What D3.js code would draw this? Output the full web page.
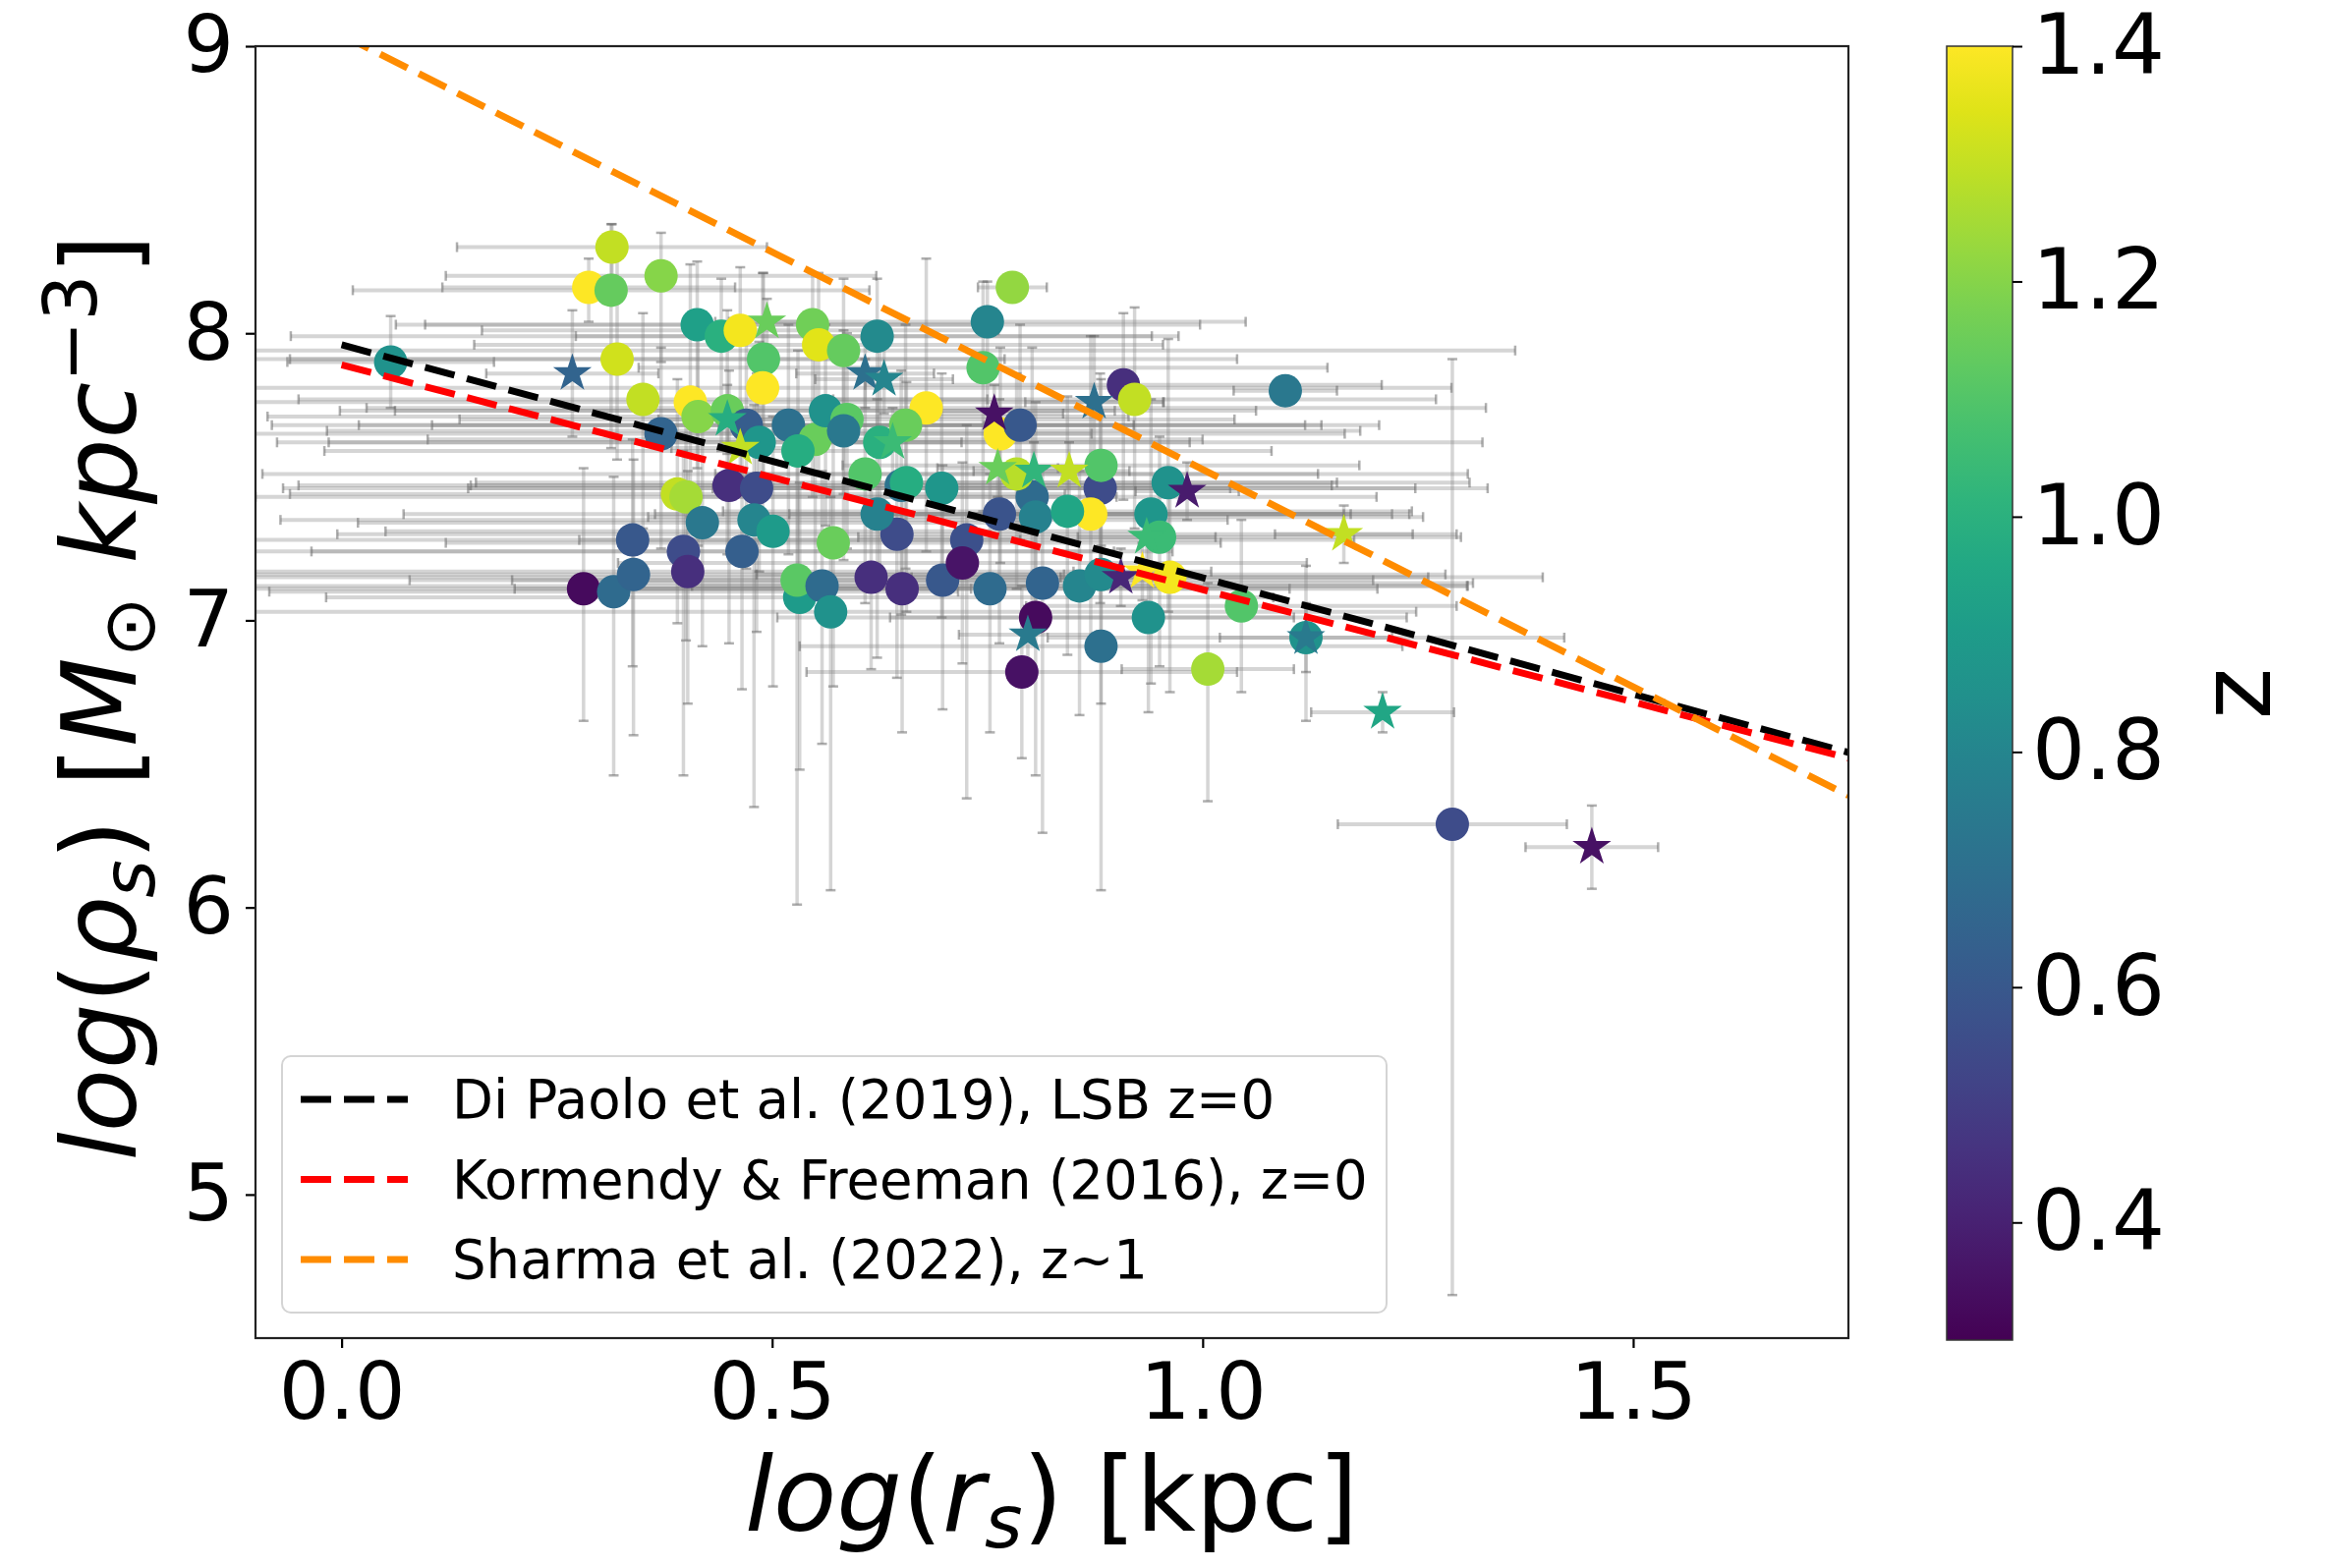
<!DOCTYPE html>
<html>
<head>
<meta charset="utf-8">
<script src="https://cdn.jsdelivr.net/npm/d3@7"></script>
<style>
body { margin: 0; background: #fff; }
text { font-family: "DejaVu Sans", sans-serif; }
</style>
</head>
<body>
<div id="chart"></div>
<script>
// circles: log r_s, log rho_s, redshift, errors (x sym, y low, y high)
var circX = [0.057,0.314,0.287,0.313,0.371,0.320,0.350,0.413,0.441,0.463,0.490,0.489,0.547,0.554,0.622,0.583,0.750,0.779,0.745,0.908,
    0.921,1.096,0.679,0.405,0.414,0.448,0.371,0.519,0.550,0.562,0.625,0.655,0.765,0.788,0.881,0.882,0.960,0.390,0.400,0.450,
    0.482,0.419,0.479,0.501,0.571,0.608,0.645,0.697,0.726,0.802,0.806,0.870,0.843,0.940,0.950,0.338,0.397,0.402,0.465,0.281,
    0.316,0.339,0.532,0.529,0.558,0.568,0.615,0.651,0.698,0.721,0.753,0.814,0.857,0.937,0.806,0.790,0.882,1.006,1.045,1.120,
    1.290,0.764,0.587,0.650,0.470,0.485,0.530,0.583,0.656,0.622,0.882,0.962,0.784];
var circY = [7.90,8.30,8.16,8.15,8.20,7.91,7.77,8.03,7.99,8.01,7.91,7.81,8.03,7.96,7.99,7.94,8.04,8.16,7.88,7.82,
    7.77,7.80,7.74,7.76,7.71,7.73,7.65,7.68,7.63,7.73,7.62,7.68,7.65,7.68,7.46,7.54,7.48,7.44,7.43,7.47,
    7.46,7.34,7.35,7.31,7.27,7.51,7.30,7.46,7.28,7.43,7.36,7.37,7.38,7.37,7.29,7.28,7.24,7.17,7.24,7.11,
    7.10,7.16,7.08,7.14,7.12,7.03,7.15,7.11,7.14,7.20,7.11,7.13,7.12,7.01,7.01,6.82,6.91,6.83,7.05,6.94,
    6.29,7.37,7.70,7.47,7.68,7.62,7.59,7.66,7.48,7.37,7.16,7.15,7.51];
var circZ = [0.86,1.30,1.40,1.14,1.20,1.32,1.30,0.92,1.00,1.38,1.10,1.40,1.16,1.35,0.82,1.14,0.80,1.22,1.10,0.45,
    1.30,0.74,1.40,1.40,1.20,1.15,0.65,0.70,1.15,0.86,1.00,1.15,1.40,0.60,0.55,1.10,0.86,1.30,1.25,0.45,
    0.55,0.74,0.80,0.90,1.15,1.10,0.55,0.88,0.57,0.68,0.78,1.40,0.95,0.88,1.05,0.60,0.55,0.45,0.63,0.33,
    0.68,0.65,0.90,1.12,0.68,0.86,0.45,0.45,0.60,0.36,0.68,0.65,0.80,0.86,0.33,0.35,0.70,1.25,1.10,0.86,
    0.55,0.58,1.12,0.72,0.62,0.88,0.98,0.74,0.98,0.78,0.82,1.38,1.28];
var circXerr = [0.12,0.18,0.17,0.30,0.25,0.45,0.40,0.35,0.50,0.30,0.55,0.80,0.45,0.40,0.35,0.78,0.30,0.04,0.40,0.30,
    0.35,0.06,0.65,0.55,0.50,0.45,0.50,0.60,0.45,0.50,0.70,0.55,0.40,0.35,0.45,0.30,0.35,0.45,0.50,0.50,
    0.55,0.40,0.55,0.45,0.45,0.70,0.65,0.55,0.45,0.40,0.45,0.35,0.40,0.30,0.35,0.45,0.50,0.55,0.50,0.45,
    0.40,0.50,0.55,0.45,0.75,0.68,0.78,0.45,0.50,0.40,0.45,0.50,0.45,0.30,0.30,0.25,0.35,0.10,0.25,0.30,
    0.133,0.40,0.45,0.50,0.45,0.50,0.55,0.60,0.50,0.55,0.40,0.30,0.35];
var circYlo = [0.16,0.10,0.12,0.55,0.30,0.35,0.45,0.50,0.40,0.35,0.45,0.50,0.60,0.45,0.40,0.50,0.35,0.05,0.50,0.40,
    0.45,0.05,0.50,0.40,0.45,0.50,0.40,0.45,0.55,0.40,0.45,0.50,0.45,0.40,0.40,0.35,0.45,0.45,0.50,0.55,
    0.50,0.43,1.00,0.54,0.50,0.45,0.50,0.45,0.90,0.45,0.40,0.45,0.50,0.59,0.45,0.44,0.78,0.46,0.48,0.46,
    0.64,0.56,0.60,1.13,0.55,0.97,0.32,0.50,0.45,0.35,0.50,0.87,0.45,0.33,0.55,0.30,0.85,0.46,0.30,0.29,
    1.64,0.45,0.45,0.45,0.50,0.45,0.50,0.45,0.45,0.50,0.45,0.40,0.40];
var circYhi = [0.16,0.08,0.10,0.23,0.15,0.39,0.30,0.22,0.20,0.22,0.30,0.40,0.18,0.25,0.20,0.25,0.14,0.05,0.30,0.25,
    0.32,0.05,0.52,0.48,0.30,0.35,0.30,0.35,0.30,0.30,0.35,0.35,0.30,0.35,0.40,0.30,0.50,0.40,0.35,0.40,
    0.40,0.35,0.40,0.40,0.40,0.40,0.40,0.40,0.40,0.52,0.40,0.62,0.40,0.40,0.35,0.35,0.35,0.35,0.35,0.42,
    0.40,0.40,0.40,0.40,0.40,0.40,0.35,0.35,0.40,0.35,0.40,0.40,0.40,0.35,0.30,0.30,0.35,0.30,0.30,0.25,
    1.62,0.40,0.30,0.40,0.35,0.35,0.35,0.35,0.35,0.40,0.40,0.35,0.35];

// stars
var starX = [0.268,0.494,0.608,0.630,0.640,0.758,0.874,0.762,0.804,0.845,0.982,1.164,0.935,0.797,1.120,1.209,1.452,0.930,0.905,0.448,0.463];
var starY = [7.86,8.04,7.86,7.84,7.62,7.72,7.76,7.53,7.52,7.52,7.45,7.30,7.29,6.95,6.94,6.68,6.21,7.17,7.15,7.70,7.60];
var starZ = [0.65,1.15,0.70,0.80,1.05,0.35,0.70,1.15,1.02,1.30,0.38,1.30,1.05,0.75,0.75,0.95,0.35,1.40,0.42,0.98,1.30];
var starXerr = [0.10,0.06,0.08,0.08,0.08,0.08,0.08,0.07,0.07,0.07,0.06,0.08,0.08,0.08,0.10,0.083,0.077,0.08,0.07,0.08,0.08];
var starYerr = [0.22,0.08,0.12,0.12,0.12,0.10,0.23,0.10,0.10,0.10,0.10,0.10,0.12,0.10,0.12,0.07,0.145,0.10,0.10,0.12,0.10];

// relations
var relX = [0, 1.75];
var diPaoloY = [7.96, 6.54];
var kormendyY = [7.89, 6.52];
var sharmaY = [9.04, 6.39];
var relNames = ["Di Paolo et al. (2019), LSB z=0", "Kormendy & Freeman (2016), z=0", "Sharma et al. (2022), z~1"];
var relColors = ["#000000", "#ff0000", "#ff8c00"];

var xTicks = [0.0, 0.5, 1.0, 1.5];
var yTicks = [5, 6, 7, 8, 9];
var zTicks = [0.4, 0.6, 0.8, 1.0, 1.2, 1.4];

drawChart();

function drawChart() {
    var W = 2367, H = 1596;
    var pl = 260, pr = 1881, pt = 47, pb = 1362;

    var svg = d3.select("#chart").append("svg")
        .attr("width", W).attr("height", H);
    svg.append("rect").attr("width", W).attr("height", H).attr("fill", "#fff");

    var x = d3.scaleLinear().domain([-0.1, 1.75]).range([pl, pr]);
    var y = d3.scaleLinear().domain([4.5, 9]).range([pb, pt]);
    var zmin = 0.3, zmax = 1.4;
    var color = function(z) { return d3.interpolateViridis((z - zmin) / (zmax - zmin)); };

    var defs = svg.append("defs");
    defs.append("clipPath").attr("id", "plotclip")
        .append("rect").attr("x", pl).attr("y", pt)
        .attr("width", pr - pl).attr("height", pb - pt);

    var plot = svg.append("g").attr("clip-path", "url(#plotclip)");

    var circles = circX.map(function(d, i) {
        return {x: d, y: circY[i], z: circZ[i], xe: circXerr[i], yl: circYlo[i], yh: circYhi[i]};
    });
    var stars = starX.map(function(d, i) {
        return {x: d, y: starY[i], z: starZ[i], xe: starXerr[i], yl: starYerr[i], yh: starYerr[i]};
    });
    var all = circles.concat(stars);

    // error bars
    var eb = plot.append("g");
    var cap = 5;
    all.forEach(function(d) {
        var g = eb.append("g");
        g.append("line")
            .attr("x1", x(d.x - d.xe)).attr("x2", x(d.x + d.xe))
            .attr("y1", y(d.y)).attr("y2", y(d.y))
            .attr("stroke", "#808080").attr("stroke-opacity", 0.33).attr("stroke-width", 4);
        g.append("line")
            .attr("x1", x(d.x)).attr("x2", x(d.x))
            .attr("y1", y(d.y - d.yl)).attr("y2", y(d.y + d.yh))
            .attr("stroke", "#808080").attr("stroke-opacity", 0.33).attr("stroke-width", 3.5);
        [d.x - d.xe, d.x + d.xe].forEach(function(v) {
            g.append("line")
                .attr("x1", x(v)).attr("x2", x(v))
                .attr("y1", y(d.y) - cap).attr("y2", y(d.y) + cap)
                .attr("stroke", "#606060").attr("stroke-opacity", 0.5).attr("stroke-width", 2.5);
        });
        [d.y - d.yl, d.y + d.yh].forEach(function(v) {
            g.append("line")
                .attr("x1", x(d.x) - cap).attr("x2", x(d.x) + cap)
                .attr("y1", y(v)).attr("y2", y(v))
                .attr("stroke", "#606060").attr("stroke-opacity", 0.5).attr("stroke-width", 2.5);
        });
    });

    plot.append("g").selectAll("circle")
        .data(circles).enter().append("circle")
        .attr("cx", function(d) { return x(d.x); })
        .attr("cy", function(d) { return y(d.y); })
        .attr("r", 17)
        .attr("fill", function(d) { return color(d.z); });

    plot.append("g").selectAll("path")
        .data(stars).enter().append("path")
        .attr("d", d3.symbol().type(d3.symbolStar).size(480))
        .attr("transform", function(d) { return "translate(" + x(d.x) + "," + y(d.y) + ")"; })
        .attr("fill", function(d) { return color(d.z); });

    // relations
    var line = d3.line()
        .x(function(d) { return x(d[0]); })
        .y(function(d) { return y(d[1]); });
    [diPaoloY, kormendyY, sharmaY].forEach(function(ys, i) {
        plot.append("path")
            .attr("d", line(relX.map(function(v, j) { return [v, ys[j]]; })))
            .attr("fill", "none")
            .attr("stroke", relColors[i])
            .attr("stroke-width", 7)
            .attr("stroke-dasharray", "31,13");
    });

    // axes
    var xAxis = svg.append("g")
        .attr("transform", "translate(0," + pb + ")")
        .call(d3.axisBottom(x).tickValues(xTicks).tickFormat(d3.format(".1f")).tickSize(10).tickPadding(14));
    var yAxis = svg.append("g")
        .attr("transform", "translate(" + pl + ",0)")
        .call(d3.axisLeft(y).tickValues(yTicks).tickFormat(d3.format("d")).tickSize(10).tickPadding(12));
    [xAxis, yAxis].forEach(function(a) {
        a.select(".domain").remove();
        a.selectAll(".tick line").attr("stroke", "#000").attr("stroke-width", 2.2);
        a.selectAll(".tick text").attr("font-size", 81).attr("fill", "#000")
            .style("font-family", "'DejaVu Sans', sans-serif");
    });

    svg.append("rect")
        .attr("x", pl).attr("y", pt)
        .attr("width", pr - pl).attr("height", pb - pt)
        .attr("fill", "none").attr("stroke", "#222").attr("stroke-width", 2.2);

    // legend
    var lg = svg.append("g");
    lg.append("rect")
        .attr("x", 287).attr("y", 1075).attr("width", 1124).attr("height", 261)
        .attr("rx", 9)
        .attr("fill", "#fff").attr("fill-opacity", 0.8)
        .attr("stroke", "#d4d4d4").attr("stroke-width", 2);
    relNames.forEach(function(name, i) {
        var ly = 1119 + i * 81.5;
        lg.append("line")
            .attr("x1", 306).attr("x2", 415).attr("y1", ly).attr("y2", ly)
            .attr("stroke", relColors[i]).attr("stroke-width", 7)
            .attr("stroke-dasharray", "31,13");
        lg.append("text")
            .attr("x", 460).attr("y", ly + 19)
            .attr("font-size", 54.5).attr("fill", "#000")
            .text(name);
    });

    // x label
    var xl = svg.append("text")
        .attr("x", 1070).attr("y", 1558)
        .attr("text-anchor", "middle").attr("font-size", 105).attr("fill", "#000");
    xl.append("tspan").attr("font-style", "italic").text("log");
    xl.append("tspan").text("(");
    xl.append("tspan").attr("font-style", "italic").text("r");
    xl.append("tspan").attr("font-style", "italic").attr("font-size", 74).attr("dy", 17).text("s");
    xl.append("tspan").attr("dy", -17).text(") [kpc]");

    // y label
    var yl = svg.append("text")
        .attr("transform", "translate(138,710) rotate(-90)")
        .attr("text-anchor", "middle").attr("font-size", 105).attr("fill", "#000");
    yl.append("tspan").attr("font-style", "italic").text("log");
    yl.append("tspan").text("(");
    yl.append("tspan").attr("font-style", "italic").text("\u03c1");
    yl.append("tspan").attr("font-style", "italic").attr("font-size", 74).attr("dy", 19).text("s");
    yl.append("tspan").attr("dy", -19).text(") [");
    yl.append("tspan").attr("font-style", "italic").text("M");
    yl.append("tspan").attr("font-size", 74).attr("dy", 19).text("\u2299");
    yl.append("tspan").attr("dy", -19).attr("font-style", "italic").text(" kpc");
    yl.append("tspan").attr("font-size", 74).attr("dy", -40).text("\u22123");
    yl.append("tspan").attr("dy", 40).text("]");

    // colorbar
    var cbx = 1981, cbw = 67;
    var zScale = d3.scaleLinear().domain([zmin, zmax]).range([pb + 2, pt]);
    var grad = defs.append("linearGradient")
        .attr("id", "viridis").attr("x1", 0).attr("y1", 1).attr("x2", 0).attr("y2", 0);
    d3.range(0, 1.0001, 0.05).forEach(function(t) {
        grad.append("stop").attr("offset", t).attr("stop-color", d3.interpolateViridis(t));
    });
    svg.append("rect")
        .attr("x", cbx).attr("y", pt).attr("width", cbw).attr("height", pb + 2 - pt)
        .attr("fill", "url(#viridis)").attr("stroke", "#333").attr("stroke-width", 1.5);
    var zAxis = svg.append("g")
        .attr("transform", "translate(" + (cbx + cbw) + ",0)")
        .call(d3.axisRight(zScale).tickValues(zTicks).tickFormat(d3.format(".1f")).tickSize(10).tickPadding(10));
    zAxis.select(".domain").remove();
    zAxis.selectAll(".tick line").attr("stroke", "#000").attr("stroke-width", 2);
    zAxis.selectAll(".tick text").attr("font-size", 85).attr("fill", "#000")
        .style("font-family", "'DejaVu Sans', sans-serif");

    svg.append("text")
        .attr("transform", "translate(2310,706) rotate(-90)")
        .attr("text-anchor", "middle").attr("font-size", 100).attr("fill", "#000")
        .text("z");
}
</script>
</body>
</html>
